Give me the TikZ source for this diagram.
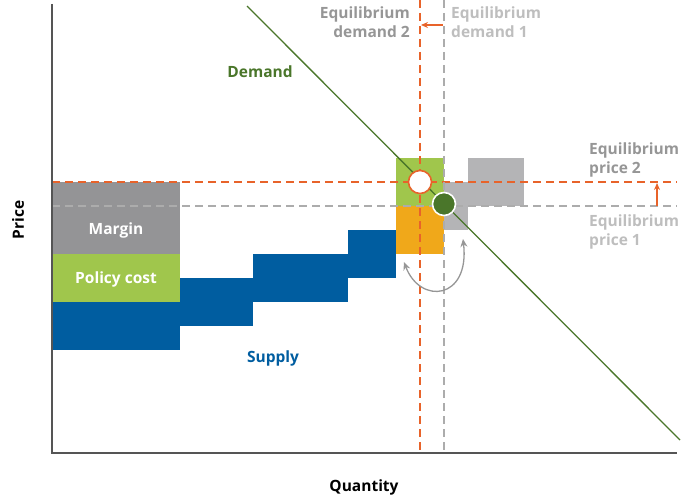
\documentclass[tikz,border=0pt]{standalone}
\usepackage{fontspec}
\setmainfont{Open Sans}
\usetikzlibrary{arrows.meta}
\definecolor{supplyBlue}{RGB}{0,93,160}
\definecolor{policyGreen}{RGB}{160,198,76}
\definecolor{marginGrey}{RGB}{148,148,150}
\definecolor{shiftGrey}{RGB}{180,180,182}
\definecolor{orangeBox}{RGB}{240,168,26}
\definecolor{orangeLine}{RGB}{232,99,42}
\definecolor{dashGrey}{RGB}{172,172,172}
\definecolor{demandGreen}{RGB}{74,118,42}
\definecolor{darkText}{RGB}{150,150,150}
\definecolor{lightText}{RGB}{190,190,190}
\definecolor{axisGrey}{RGB}{85,85,85}

\begin{document}
\begin{tikzpicture}[x=1pt,y=-1pt,
    lab/.style={font=\bfseries\fontsize{15.5}{19}\selectfont, inner sep=0pt},
    eqdash/.style={line width=1.4pt, dash pattern=on 8pt off 5pt},
    eqdot/.style={circle, inner sep=0pt, line width=1.6pt}]
  \useasboundingbox (0,0) rectangle (692,497);

  \fill[marginGrey] (52,182) rectangle (180,254);
  \fill[policyGreen] (52,254) rectangle (180,302);
  \foreach \x/\y/\w in {52/302/128, 180/278/73, 253/254/95, 348/230/48}
    \fill[supplyBlue] (\x,\y) rectangle ++(\w,48);
  \fill[orangeBox] (396,206) rectangle (444,254);
  \fill[policyGreen] (396,158) rectangle (444,206);
  \fill[shiftGrey] (444,182) rectangle (468,230);
  \fill[shiftGrey] (468,158) rectangle (524,206);

  \draw[eqdash, dashGrey] (52,206) -- (677,206);
  \draw[eqdash, orangeLine] (52,182) -- (677,182);
  \draw[eqdash, dashGrey] (444,0) -- (444,450);
  \draw[eqdash, orangeLine] (420,0) -- (420,450);

  \draw[axisGrey, line width=2pt] (52,4) -- (52,453) -- (677,453);

  \coordinate (dtop) at (247,6);
  \coordinate (dbot) at (680,440);
  \draw[demandGreen, line width=1.3pt] (dtop) -- (dbot);

  \node[eqdot, fill=white, draw=orangeLine, minimum size=23pt] (eqtwo) at (420,182) {};
  \node[eqdot, fill=demandGreen, draw=white, minimum size=23pt] (eqone) at (444,204) {};

  \coordinate (qold) at (443,25);
  \coordinate (qnew) at (421,25);
  \draw[orangeLine, line width=1.6pt, -{Stealth[length=7pt,width=6pt]}] (qold) -- (qnew);
  \coordinate (pold) at (657,206);
  \coordinate (pnew) at (657,183);
  \draw[orangeLine, line width=1.6pt, -{Stealth[length=7pt,width=6pt]}] (pold) -- (pnew);

  \coordinate (swapA) at (404,262);
  \coordinate (swapB) at (463,239);
  \draw[darkText, line width=1.3pt, {Stealth[length=8pt,width=7pt]}-{Stealth[length=8pt,width=7pt]}]
    (swapA) .. controls (420,305) and (470,300) .. (swapB);

  \node[lab, darkText, align=right, anchor=north east] (dem2) at (410,7) {Equilibrium\\demand 2};
  \node[lab, lightText, align=left, anchor=north west] (dem1) at (451,7) {Equilibrium\\demand 1};
  \node[lab, darkText, align=left, anchor=west] (pri2) at (589,160) {Equilibrium\\price 2};
  \node[lab, lightText, align=left, anchor=west] (pri1) at (589,232) {Equilibrium\\price 1};
  \node[lab, demandGreen] (demand) at (260,72) {Demand};
  \node[lab, white] (margin) at (116,230) {Margin};
  \node[lab, white] (policy) at (116,279) {Policy cost};
  \node[lab, supplyBlue] (supply) at (273,358) {Supply};
  \node[lab, black] (quantity) at (364,487) {Quantity};
  \node[lab, black, rotate=90] (price) at (18,220) {Price};
\end{tikzpicture}
\end{document}
